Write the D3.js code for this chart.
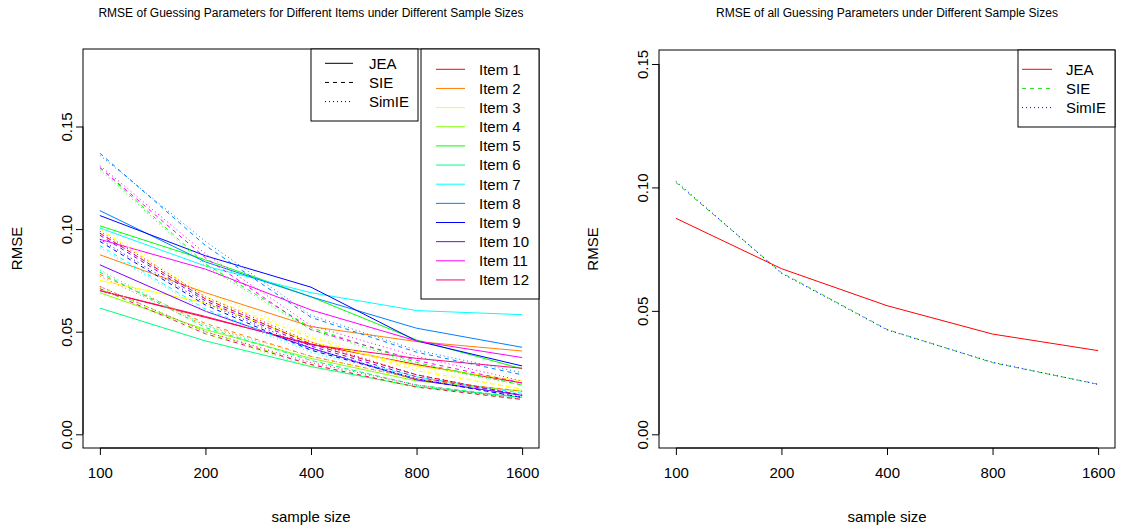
<!DOCTYPE html>
<html>
<head>
    <title>RMSE of Guessing Parameters</title>
    <style>
        body { margin: 0; background: #fff; }
        svg { font-family: "Liberation Sans", Arial, sans-serif; }
        .box { fill: none; stroke: #000; stroke-width: 1; }
        .axis path, .axis line { stroke: #000; }
        .axis text { font-size: 15px; fill: #000; }
        .legend-text { font-size: 15px; fill: #000; }
        .title { font-size: 12px; fill: #000; }
        .lab { font-size: 15px; fill: #000; }
    </style>
</head>
<body>
    <div id="chart"></div>

    <script src="https://d3js.org/d3.v7.min.js"></script>
    <script>
        var sampleSizes = [100, 200, 400, 800, 1600];
        var items = ["Item 1", "Item 2", "Item 3", "Item 4", "Item 5", "Item 6",
                     "Item 7", "Item 8", "Item 9", "Item 10", "Item 11", "Item 12"];
        var itemColors = ["#FF0000", "#FF8000", "#FFFF00", "#80FF00", "#00FF00", "#00FF80",
                          "#00FFFF", "#0080FF", "#0000FF", "#8000FF", "#FF00FF", "#FF0080"];
        var methods = ["JEA", "SIE", "SimIE"];
        var yTicksLeft = [0, 0.05, 0.10, 0.15];
        var yTicksRight = [0, 0.05, 0.10, 0.15];

        // RMSE per item, one row per item, columns follow sampleSizes
        var jeaItems = [
            [0.070, 0.057, 0.044, 0.034, 0.025],
            [0.0875, 0.069, 0.0525, 0.0452, 0.0406],
            [0.075, 0.064, 0.045, 0.0333, 0.026],
            [0.069, 0.051, 0.037, 0.026, 0.021],
            [0.1016, 0.085, 0.067, 0.046, 0.0319],
            [0.0615, 0.0455, 0.033, 0.0232, 0.018],
            [0.1005, 0.082, 0.069, 0.0603, 0.0583],
            [0.109, 0.084, 0.067, 0.0517, 0.0424],
            [0.1066, 0.087, 0.0717, 0.0455, 0.0333],
            [0.0826, 0.060, 0.042, 0.0265, 0.019],
            [0.095, 0.0805, 0.0606, 0.0455, 0.0374],
            [0.070, 0.0574, 0.0436, 0.037, 0.0322]
        ];
        var sieItems = [
            [0.098, 0.066, 0.044, 0.029, 0.019],
            [0.078, 0.054, 0.038, 0.027, 0.021],
            [0.100, 0.067, 0.047, 0.031, 0.022],
            [0.072, 0.050, 0.034, 0.023, 0.017],
            [0.130, 0.083, 0.052, 0.035, 0.024],
            [0.079, 0.052, 0.036, 0.024, 0.018],
            [0.092, 0.061, 0.041, 0.028, 0.020],
            [0.137, 0.092, 0.057, 0.040, 0.029],
            [0.094, 0.063, 0.041, 0.027, 0.018],
            [0.097, 0.065, 0.043, 0.028, 0.019],
            [0.130, 0.086, 0.051, 0.036, 0.025],
            [0.071, 0.049, 0.034, 0.023, 0.017]
        ];
        var simieItems = [
            [0.099, 0.067, 0.045, 0.029, 0.019],
            [0.077, 0.053, 0.038, 0.027, 0.021],
            [0.101, 0.069, 0.048, 0.032, 0.022],
            [0.071, 0.049, 0.033, 0.023, 0.017],
            [0.129, 0.082, 0.051, 0.034, 0.024],
            [0.080, 0.053, 0.036, 0.024, 0.018],
            [0.091, 0.060, 0.040, 0.027, 0.020],
            [0.136, 0.094, 0.058, 0.041, 0.030],
            [0.095, 0.064, 0.042, 0.027, 0.018],
            [0.098, 0.066, 0.044, 0.029, 0.019],
            [0.131, 0.088, 0.053, 0.038, 0.026],
            [0.072, 0.050, 0.035, 0.024, 0.017]
        ];

        // overall RMSE of all guessing parameters
        var jeaAll = [0.0875, 0.0671, 0.0521, 0.0406, 0.0339];
        var sieAll = [0.1020, 0.0655, 0.0425, 0.0290, 0.0203];
        var simieAll = [0.1025, 0.0652, 0.0423, 0.0292, 0.0202];
        var allColors = ["#FF0000", "#22DD22", "#0000FF"];

        var dashes = { JEA: null, SIE: "4,4", SimIE: "1,3" };

        var width = 1122, height = 531;
        var svg = d3.select("#chart").append("svg")
            .attr("width", width)
            .attr("height", height);

        function drawPanel(p) {
            var g = svg.append("g");

            var x = d3.scaleLog().base(2)
                .domain([100 / Math.pow(2, 0.16), 1600 * Math.pow(2, 0.16)])
                .range([p.left, p.right]);
            var y = d3.scaleLinear()
                .domain([0, 0.15])
                .range([434.3, p.y15]);

            var line = d3.line()
                .x(function (d, i) { return x(sampleSizes[i]); })
                .y(function (d) { return y(d); });

            p.series.forEach(function (s) {
                g.append("path")
                    .attr("d", line(s.values))
                    .attr("fill", "none")
                    .attr("stroke", s.color)
                    .attr("stroke-width", 1)
                    .attr("stroke-dasharray", dashes[s.method]);
            });

            g.append("rect").attr("class", "box")
                .attr("x", p.left).attr("y", p.top)
                .attr("width", p.right - p.left).attr("height", p.bottom - p.top);

            var xAxis = g.append("g").attr("class", "axis")
                .attr("transform", "translate(0," + p.bottom + ")")
                .call(d3.axisBottom(x).tickValues(sampleSizes).tickFormat(d3.format("d"))
                    .tickSize(7).tickPadding(12));
            xAxis.select(".domain").attr("d", "M" + x(100) + ",0H" + x(1600));
            xAxis.selectAll("text").attr("dy", "0.71em").attr("font-family", null);

            var yAxis = g.append("g").attr("class", "axis")
                .attr("transform", "translate(" + p.left + ",0)")
                .call(d3.axisLeft(y).tickValues(p.yTicks).tickFormat(d3.format(".2f"))
                    .tickSize(7));
            yAxis.select(".domain").attr("d", "M0," + y(0) + "V" + y(0.15));
            yAxis.selectAll("text")
                .attr("font-family", null)
                .attr("x", null).attr("dy", null)
                .attr("text-anchor", "middle")
                .attr("transform", "translate(-11,0) rotate(-90)");

            svg.append("text").attr("class", "title")
                .attr("x", (p.left + p.right) / 2).attr("y", 17)
                .attr("text-anchor", "middle").text(p.title);
            svg.append("text").attr("class", "lab")
                .attr("x", (p.left + p.right) / 2).attr("y", 522)
                .attr("text-anchor", "middle").text("sample size");
            svg.append("text").attr("class", "lab")
                .attr("transform", "translate(" + (p.left - 61) + "," + ((p.top + p.bottom) / 2) + ") rotate(-90)")
                .attr("text-anchor", "middle").text("RMSE");
        }

        function drawLegend(bx, by, bw, bh, x0, x1, tx, y0, rows) {
            var g = svg.append("g");
            g.append("rect").attr("x", bx).attr("y", by).attr("width", bw).attr("height", bh)
                .attr("fill", "#fff").attr("stroke", "#000");
            rows.forEach(function (r, i) {
                var yy = y0 + i * 19.15;
                g.append("line").attr("x1", x0).attr("x2", x1).attr("y1", yy).attr("y2", yy)
                    .attr("stroke", r.color).attr("stroke-width", 1)
                    .attr("stroke-dasharray", r.dash);
                g.append("text").attr("class", "legend-text")
                    .attr("x", tx).attr("y", yy).attr("dy", "0.36em").text(r.label);
            });
        }

        // left panel
        var leftSeries = [];
        [jeaItems, sieItems, simieItems].forEach(function (tab, m) {
            tab.forEach(function (vals, i) {
                leftSeries.push({ method: methods[m], color: itemColors[i], values: vals });
            });
        });
        drawPanel({
            left: 83, right: 539, top: 49, bottom: 448, y15: 126.5,
            yTicks: yTicksLeft, series: leftSeries,
            title: "RMSE of Guessing Parameters for Different Items under Different Sample Sizes"
        });

        // right panel
        drawPanel({
            left: 659, right: 1115, top: 50, bottom: 448, y15: 64,
            yTicks: yTicksRight,
            series: [
                { method: "JEA", color: allColors[0], values: jeaAll },
                { method: "SIE", color: allColors[1], values: sieAll },
                { method: "SimIE", color: allColors[2], values: simieAll }
            ],
            title: "RMSE of all Guessing Parameters under Different Sample Sizes"
        });

        drawLegend(311, 49, 107, 72, 325, 353, 369, 63.3,
            methods.map(function (m) { return { label: m, color: "#000", dash: dashes[m] }; }));
        drawLegend(421, 49, 118, 250, 436, 465, 479, 69.3,
            items.map(function (it, i) { return { label: it, color: itemColors[i], dash: null }; }));
        drawLegend(1018, 50, 97, 77, 1022, 1052, 1066, 69.3,
            methods.map(function (m, i) { return { label: m, color: allColors[i], dash: dashes[m] }; }));
    </script>
</body>
</html>
